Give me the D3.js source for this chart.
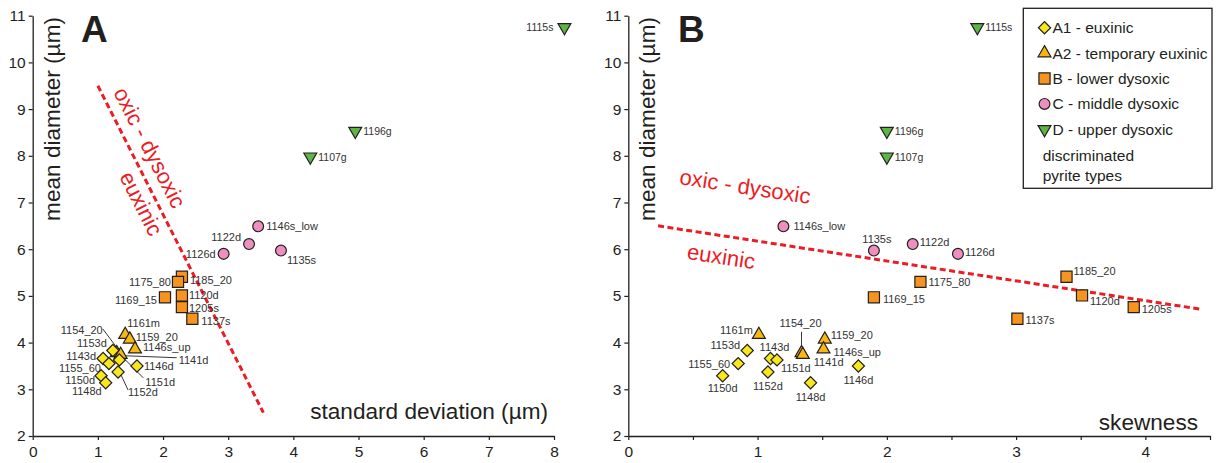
<!DOCTYPE html>
<html>
<head>
<meta charset="utf-8">
<script src="https://cdn.jsdelivr.net/npm/d3@7"></script>
<style>
  body { margin: 0; background: #fff; }
  svg { display: block; font-family: "Liberation Sans", Arial, sans-serif; }
</style>
</head>
<body>
<svg id="chart" width="1221" height="463"></svg>
<script>
// ---- data ----
const sampleIds = ["1115s", "1196g", "1107g",
  "1146s_low", "1122d", "1126d", "1135s",
  "1185_20", "1175_80", "1169_15", "1120d", "1205s", "1137s",
  "1161m", "1159_20", "1146s_up", "1154_20", "1141d",
  "1153d", "1143d", "1155_60", "1150d", "1148d", "1152d", "1146d", "1151d"];
const pyriteType = ["D", "D", "D",
  "C", "C", "C", "C",
  "B", "B", "B", "B", "B", "B",
  "A2", "A2", "A2", "A2", "A2",
  "A1", "A1", "A1", "A1", "A1", "A1", "A1", "A1"];
const meanDiameter = [10.75, 8.53, 7.98,
  6.49, 6.11, 5.90, 5.97,
  5.41, 5.30, 4.97, 5.01, 4.76, 4.51,
  4.17, 4.07, 3.86, 3.78, 3.74,
  3.83, 3.66, 3.55, 3.29, 3.14, 3.37, 3.50, 3.63];
const stdDeviation = [8.16, 4.95, 4.26,
  3.46, 3.32, 2.93, 3.81,
  2.29, 2.23, 2.03, 2.29, 2.29, 2.45,
  1.42, 1.49, 1.57, 1.29, 1.35,
  1.23, 1.08, 1.17, 1.05, 1.12, 1.31, 1.60, 1.33];
const skewness = [2.70, 2.00, 2.00,
  1.20, 2.20, 2.55, 1.90,
  3.39, 2.26, 1.90, 3.51, 3.91, 3.01,
  1.01, 1.52, 1.51, 1.34, 1.35,
  0.92, 1.10, 0.85, 0.73, 1.41, 1.08, 1.78, 1.15];

const typeCodes = ["A1", "A2", "B", "C", "D"];
const typeNames = ["A1 - euxinic", "A2 - temporary euxinic", "B - lower dysoxic",
  "C - middle dysoxic", "D - upper dysoxic"];

const yTicks = [2, 3, 4, 5, 6, 7, 8, 9, 10, 11];
const xTicksA = [0, 1, 2, 3, 4, 5, 6, 7, 8];
const xTicksB = [0, 0.5, 1, 1.5, 2, 2.5, 3, 3.5, 4, 4.5];

// boundary lines [x, meanDiameter]
const boundaryA = [[1.0, 9.5], [3.54, 2.5]];
const boundaryB = [[0.23, 6.5], [4.44, 4.71]];

// ---- styling ----
const typeStyle = {
  A1: { fill: "#f8e71c", shape: "diamond" },
  A2: { fill: "#f9b710", shape: "triangle" },
  B:  { fill: "#f7941d", shape: "square" },
  C:  { fill: "#ef8fbf", shape: "circle" },
  D:  { fill: "#5db545", shape: "triangleDown" }
};
const ink = "#231f20";
const red = "#ec1c24";

function symbolPath(shape) {
  switch (shape) {
    case "diamond": return d3.symbol(d3.symbolSquare, 74)();
    case "triangle": return d3.symbol(d3.symbolTriangle, 72)();
    case "triangleDown": return d3.symbol(d3.symbolTriangle, 72)();
    case "square": return d3.symbol(d3.symbolSquare, 124)();
    default: return d3.symbol(d3.symbolCircle, 92)();
  }
}
function symbolRotate(shape) {
  if (shape === "diamond") return 45;
  if (shape === "triangleDown") return 180;
  return 0;
}

// label placement: id -> [dx, dy, anchor]
const labelsA = {
  "1115s": [-11, 0, "end"], "1196g": [8, 0, "start"], "1107g": [8, 0, "start"],
  "1146s_low": [8, 0, "start"], "1122d": [-8, -7, "end"], "1126d": [-8, 0, "end"],
  "1135s": [6, 9, "start"],
  "1185_20": [8, 3, "start"], "1175_80": [-7, 0, "end"], "1169_15": [-8, 3, "end"],
  "1120d": [7, 0, "start"], "1205s": [7, 1, "start"], "1137s": [9, 2, "start"],
  "1161m": [2, -12, "start"], "1159_20": [6, -2, "start"], "1146s_up": [8, -2, "start"],
  "1154_20": [-14, -23, "end"], "1141d": [58, 5, "start"],
  "1153d": [-6, -8, "end"], "1143d": [-7, -2.5, "end"], "1155_60": [-8, 4, "end"],
  "1150d": [-6, 4, "end"], "1148d": [-4, 8, "end"], "1152d": [10, 20, "start"],
  "1146d": [7, 0, "start"], "1151d": [26, 22, "start"]
};
const leadersA = {
  "1154_20": [-14, -24, 4, 0], "1141d": [56, 3, 4, 1],
  "1151d": [24, 18, 5, -1], "1152d": [10, 18, 3, 3]
};
const labelsB = {
  "1115s": [8, 0, "start"], "1196g": [8, 0, "start"], "1107g": [8, 0, "start"],
  "1146s_low": [10, 0, "start"], "1135s": [3, -12, "middle"], "1122d": [7, -2, "start"],
  "1126d": [7, -2, "start"],
  "1185_20": [7, -6, "start"], "1175_80": [8, 0, "start"], "1169_15": [9, 2, "start"],
  "1120d": [8, 6, "start"], "1205s": [8, 2, "start"], "1137s": [8, 1, "start"],
  "1161m": [-6, -5, "end"], "1159_20": [6, -4, "start"], "1146s_up": [10, 3, "start"],
  "1154_20": [-1, -30, "middle"], "1141d": [11, 7, "start"],
  "1153d": [-7, -6, "end"], "1143d": [4, -11, "middle"], "1155_60": [-8, 0, "end"],
  "1150d": [0, 12, "middle"], "1148d": [0, 14, "middle"], "1152d": [0, 14, "middle"],
  "1146d": [0, 14, "middle"], "1151d": [4, 8, "start"]
};
const leadersB = { "1154_20": [0, -21, 0, -4] };

const svg = d3.select("#chart");
const y = d3.scaleLinear().domain([2, 11]).range([436, 15.7]);

function drawPanel(opt) {
  const g = svg.append("g");
  const x = d3.scaleLinear().domain(opt.domain).range(opt.range);

  // axes
  const xAxis = g.append("g").attr("transform", "translate(0,436)")
    .call(d3.axisBottom(x).tickValues(opt.ticks).tickSize(4).tickSizeOuter(0)
      .tickPadding(6).tickFormat(d => Number.isInteger(d) ? d : ""));
  const yAxis = g.append("g").attr("transform", `translate(${opt.range[0]},0)`)
    .call(d3.axisLeft(y).tickValues(yTicks).tickSize(4).tickSizeOuter(0).tickPadding(3));
  [xAxis, yAxis].forEach(a => {
    a.select(".domain").attr("stroke", ink).attr("stroke-width", 1.3);
    a.selectAll(".tick line").attr("stroke", ink).attr("stroke-width", 1.2);
    a.selectAll(".tick text").attr("fill", ink).style("font-size", "15.5px")
      .style("font-family", "'Liberation Sans', Arial, sans-serif");
  });

  // titles
  g.append("text")
    .attr("transform", `translate(${opt.range[0] + 27},17) rotate(-90)`)
    .attr("text-anchor", "end").attr("fill", ink).style("font-size", "22.6px")
    .text("mean diameter (µm)");
  g.append("text").attr("x", opt.xTitlePos[0]).attr("y", opt.xTitlePos[1])
    .attr("text-anchor", "end").attr("fill", ink).style("font-size", "22.6px")
    .text(opt.xTitle);
  g.append("text").attr("x", opt.letterPos[0]).attr("y", opt.letterPos[1])
    .attr("fill", ink).style("font-size", "37px").style("font-weight", "bold")
    .text(opt.letter);

  // boundary line
  g.append("line")
    .attr("x1", x(opt.boundary[0][0])).attr("y1", y(opt.boundary[0][1]))
    .attr("x2", x(opt.boundary[1][0])).attr("y2", y(opt.boundary[1][1]))
    .attr("stroke", red).attr("stroke-width", 3).attr("stroke-dasharray", "6,3.5");
  opt.redText.forEach(t => {
    g.append("text")
      .attr("transform", `translate(${t.pos[0]},${t.pos[1]}) rotate(${opt.angle})`)
      .attr("text-anchor", "middle")
      .attr("fill", red).style("font-size", "22px").text(t.text);
  });

  const pts = sampleIds.map((id, i) => ({
    id, type: pyriteType[i], px: x(opt.xValues[i]), py: y(meanDiameter[i])
  }));

  // leader lines
  pts.filter(p => opt.leaders[p.id]).forEach(p => {
    const l = opt.leaders[p.id];
    g.append("line")
      .attr("x1", p.px + l[0]).attr("y1", p.py + l[1])
      .attr("x2", p.px + l[2]).attr("y2", p.py + l[3])
      .attr("stroke", ink).attr("stroke-width", 0.9);
  });

  // markers
  g.selectAll("path.pt").data(pts).join("path").attr("class", "pt")
    .attr("d", d => symbolPath(typeStyle[d.type].shape))
    .attr("transform", d => `translate(${d.px},${d.py}) rotate(${symbolRotate(typeStyle[d.type].shape)})`)
    .attr("fill", d => typeStyle[d.type].fill)
    .attr("stroke", ink).attr("stroke-width", 1.2);

  // point labels
  g.selectAll("text.lbl").data(pts).join("text").attr("class", "lbl")
    .attr("x", d => d.px + opt.labels[d.id][0])
    .attr("y", d => d.py + opt.labels[d.id][1])
    .attr("text-anchor", d => opt.labels[d.id][2])
    .attr("dominant-baseline", "central")
    .attr("fill", "#333").style("font-size", d => d.type === "D" ? "10.5px" : "11px")
    .text(d => d.id);
}

drawPanel({
  domain: [0, 8], range: [32.7, 554], ticks: xTicksA, xValues: stdDeviation,
  xTitle: "standard deviation (µm)", xTitlePos: [548, 419],
  letter: "A", letterPos: [81, 42],
  boundary: boundaryA, angle: 63,
  redText: [{ text: "oxic - dysoxic", pos: [143, 151] }, { text: "euxinic", pos: [134.5, 207] }],
  labels: labelsA, leaders: leadersA
});
drawPanel({
  domain: [0, 4.5], range: [628.3, 1210], ticks: xTicksB, xValues: skewness,
  xTitle: "skewness", xTitlePos: [1198, 430],
  letter: "B", letterPos: [678, 42],
  boundary: boundaryB, angle: 8.7,
  redText: [{ text: "oxic - dysoxic", pos: [744, 194] }, { text: "euxinic", pos: [720, 264] }],
  labels: labelsB, leaders: leadersB
});

// ---- legend ----
const legend = svg.append("g");
legend.append("rect").attr("x", 1023.3).attr("y", 8.3).attr("width", 188.7).attr("height", 180)
  .attr("fill", "#fff").attr("stroke", ink).attr("stroke-width", 1.3);
const legendRows = d3.scaleLinear().domain([0, 4]).range([27.7, 129.3]);
typeCodes.forEach((c, i) => {
  const s = typeStyle[c];
  legend.append("path").attr("d", symbolPath(s.shape))
    .attr("transform", `translate(1044.5,${legendRows(i)}) rotate(${symbolRotate(s.shape)})`)
    .attr("fill", s.fill).attr("stroke", ink).attr("stroke-width", 1.2);
  legend.append("text").attr("x", 1052.5).attr("y", legendRows(i))
    .attr("dominant-baseline", "central").attr("fill", ink).style("font-size", "15.5px")
    .text(typeNames[i]);
});
["discriminated", "pyrite types"].forEach((t, i) => {
  legend.append("text").attr("x", 1042.7).attr("y", 155.7 + i * 19.5)
    .attr("dominant-baseline", "central").attr("fill", ink).style("font-size", "15.5px")
    .text(t);
});
</script>
</body>
</html>
